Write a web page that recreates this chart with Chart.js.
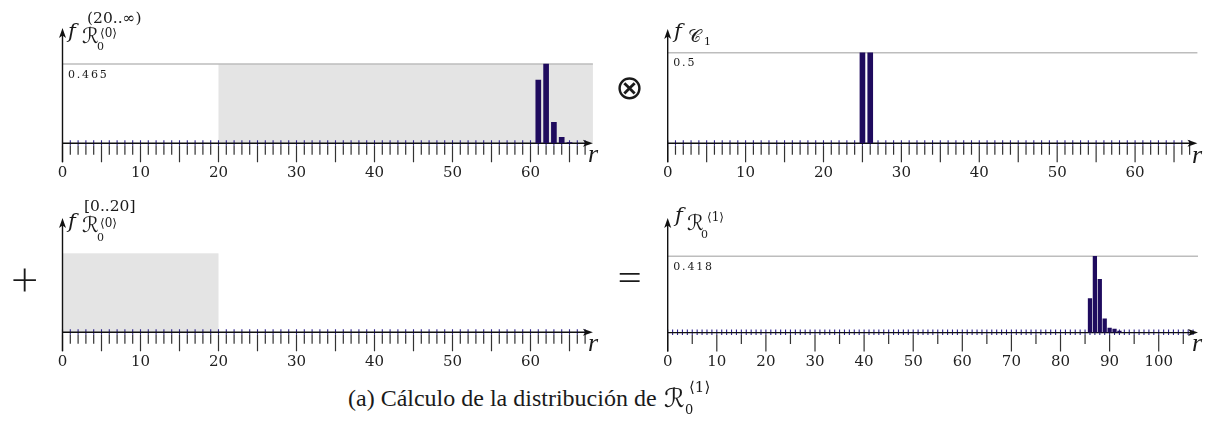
<!DOCTYPE html>
<html>
<head>
<meta charset="utf-8">
<script src="https://cdn.jsdelivr.net/npm/chart.js@4.4.1/dist/chart.umd.min.js"></script>
<style>
  html, body { margin: 0; padding: 0; background: #fff; }
  #fig { position: relative; width: 1214px; height: 445px; overflow: hidden; }
  #fig canvas { position: absolute; }
  .t { position: absolute; line-height: 1; white-space: nowrap; color: #1a1a1a; }
  .dv { font-family: "DejaVu Serif", "DejaVu Sans", serif; }
  .di { font-family: "DejaVu Serif", serif; font-style: italic; }
  .ds { font-family: "DejaVu Sans", sans-serif; }
  .lb { font-family: "Liberation Serif", serif; }
  .lt { font-family: "Lato", "DejaVu Sans", sans-serif; font-weight: 300; }
  .it { font-family: "Liberation Serif", serif; font-style: italic; }
  .val { font-family: "DejaVu Serif", serif; letter-spacing: 1.8px; }
</style>
</head>
<body>
<div id="fig">
  <canvas id="cTail" width="607" height="190" style="left:0;top:0"></canvas>
  <canvas id="cStep" width="607" height="190" style="left:607px;top:0"></canvas>
  <canvas id="cHead" width="607" height="190" style="left:0;top:190px"></canvas>
  <canvas id="cNext" width="607" height="190" style="left:607px;top:190px"></canvas>
</div>
<script>
// ---- data -------------------------------------------------------------
// tail of the round-0 distribution, r in (20..inf)
const tailR = [61, 62, 63, 64, 65];
const tailF = [0.371, 0.465, 0.123, 0.035, 0.004];
const tailFrom = 20;

// step distribution C1
const stepR = [25, 26];
const stepF = [0.5, 0.5];

// head of the round-0 distribution, r in [0..20] (no mass there)
const headR = [];
const headF = [];
const headTo = 20;

// resulting round-1 distribution
const nextR = [86, 87, 88, 89, 90, 91, 92];
const nextF = [0.186, 0.418, 0.292, 0.075, 0.025, 0.019, 0.009];

// labelled ticks on the r axes
const shortAxisLabels = [0, 10, 20, 30, 40, 50, 60];
const longAxisLabels = [0, 10, 20, 30, 40, 50, 60, 70, 80, 90, 100];

const BAR = '#1f0b5e';
const UNIT_MARK = '#30248f';
const X_SCALE_H = 40;

// ---- axis decoration: shading, peak line, ticks, arrows -----------------
const axisDecor = {
  id: 'axisDecor',
  beforeDatasetsDraw(chart, _args, o) {
    const { ctx, chartArea: a } = chart;
    const xs = chart.scales.x, ys = chart.scales.y;
    const y0 = ys.getPixelForValue(0);
    ctx.save();
    if (o.shade) {
      const x1 = xs.getPixelForValue(o.shade[0]);
      const x2 = xs.getPixelForValue(Math.min(o.shade[1], xs.max));
      const yt = ys.getPixelForValue(o.shadeTop);
      ctx.fillStyle = '#e4e4e4';
      ctx.fillRect(x1, yt, x2 - x1, y0 - yt);
    }
    if (o.peak != null) {
      const yp = ys.getPixelForValue(o.peak);
      ctx.strokeStyle = '#bdbdbd';
      ctx.lineWidth = 1.4;
      ctx.beginPath(); ctx.moveTo(a.left, yp); ctx.lineTo(a.right, yp); ctx.stroke();
    }
    // one small mark per integer r
    ctx.strokeStyle = UNIT_MARK;
    ctx.lineWidth = 1.1;
    ctx.beginPath();
    for (let v = 0; v < xs.max; v++) {
      const px = xs.getPixelForValue(v);
      ctx.moveTo(px, y0 - 3); ctx.lineTo(px, y0 + 2.5);
    }
    ctx.stroke();
    // minor / major ticks below the axis
    ctx.strokeStyle = '#333';
    ctx.lineWidth = 1.2;
    ctx.beginPath();
    for (let v = 0; v < xs.max; v += o.minor) {
      const len = v % o.major === 0 ? 19 : 11.5;
      const px = xs.getPixelForValue(v);
      ctx.moveTo(px, y0 + 2.5); ctx.lineTo(px, y0 + len);
    }
    ctx.stroke();
    // axis lines
    ctx.strokeStyle = '#111';
    ctx.lineWidth = 1.4;
    ctx.beginPath();
    ctx.moveTo(a.left, y0 + 19); ctx.lineTo(a.left, a.top + 6);
    ctx.moveTo(a.left, y0); ctx.lineTo(a.right - 6, y0);
    ctx.stroke();
    // arrowheads
    ctx.fillStyle = '#111';
    ctx.beginPath();
    ctx.moveTo(a.right, y0); ctx.lineTo(a.right - 10, y0 - 3.5);
    ctx.lineTo(a.right - 7.5, y0); ctx.lineTo(a.right - 10, y0 + 3.5);
    ctx.closePath(); ctx.fill();
    ctx.beginPath();
    ctx.moveTo(a.left, a.top); ctx.lineTo(a.left - 3.5, a.top + 10);
    ctx.lineTo(a.left, a.top + 7.5); ctx.lineTo(a.left + 3.5, a.top + 10);
    ctx.closePath(); ctx.fill();
    ctx.restore();
  }
};

function panel(id, o) {
  const canvas = document.getElementById(id);
  return new Chart(canvas, {
    type: 'bar',
    data: {
      datasets: [{
        data: o.r.map((v, i) => ({ x: v, y: o.f[i] })),
        backgroundColor: BAR,
        borderWidth: 0,
        barThickness: o.barW
      }]
    },
    options: {
      responsive: false,
      animation: false,
      events: [],
      layout: {
        padding: {
          left: o.left, right: o.right, top: o.top,
          bottom: canvas.height - o.bottom - X_SCALE_H
        }
      },
      plugins: {
        legend: { display: false },
        tooltip: { enabled: false },
        axisDecor: o.decor
      },
      scales: {
        x: {
          type: 'linear',
          min: 0,
          max: o.xMax,
          offset: false,
          grid: { display: false, drawTicks: false },
          border: { display: false },
          afterBuildTicks: s => { s.ticks = o.labels.map(v => ({ value: v })); },
          afterFit: s => { s.height = X_SCALE_H; },
          ticks: {
            padding: 21,
            color: '#222',
            maxRotation: 0,
            autoSkip: false,
            font: { family: 'DejaVu Serif', size: 15 }
          }
        },
        y: { display: false, min: 0, max: o.yMax }
      }
    },
    plugins: [axisDecor]
  });
}

const tailPeak = Math.max(...tailF);
const stepPeak = Math.max(...stepF);
const nextPeak = Math.max(...nextF);

panel('cTail', {
  r: tailR, f: tailF, barW: 5, xMax: 68, yMax: 0.676, labels: shortAxisLabels,
  left: 62.5, right: 14.1, top: 28, bottom: 143.3,
  decor: { shade: [tailFrom, Infinity], shadeTop: tailPeak, peak: tailPeak, minor: 1, major: 5 }
});
panel('cStep', {
  r: stepR, f: stepF, barW: 5, xMax: 68, yMax: 0.631, labels: shortAxisLabels,
  left: 60.7, right: 16.6, top: 29, bottom: 143.3,
  decor: { peak: stepPeak, minor: 1, major: 5 }
});
panel('cHead', {
  r: headR, f: headF, barW: 5, xMax: 68, yMax: 0.673, labels: shortAxisLabels,
  left: 62.5, right: 14.1, top: 28, bottom: 142.3,
  decor: { shade: [0, headTo], shadeTop: tailPeak, peak: null, minor: 1, major: 5 }
});
panel('cNext', {
  r: nextR, f: nextF, barW: 3.6, xMax: 108, yMax: 0.628, labels: longAxisLabels,
  left: 60.7, right: 16, top: 28, bottom: 142.6,
  decor: { peak: nextPeak, minor: 5, major: 10 }
});

// ---- text: axis names, peak values, operators, caption -------------------
const fig = document.getElementById('fig');
const ASC = { dv: 0.846, di: 0.846, ds: 0.846, lb: 0.8375, it: 0.8375, val: 0.846, lt: 0.82 };
function txt(s, left, baseline, size, cls, extra) {
  const el = document.createElement('div');
  el.className = 't ' + cls;
  el.textContent = s;
  el.style.left = left + 'px';
  el.style.top = (baseline - ASC[cls] * size) + 'px';
  el.style.fontSize = size + 'px';
  if (extra) Object.assign(el.style, extra);
  fig.appendChild(el);
  return el;
}

// f_{R_0^<0>}^{(20..inf)}
txt('f', 68, 39, 21, 'di');
txt('\u211B', 82, 44, 21, 'dv');
txt('\u27E80\u27E9', 100, 37, 12, 'dv');
txt('0', 97, 50, 11, 'dv');
txt('(20..\u221E)', 87, 24, 15.5, 'dv');
txt(String(tailPeak), 68, 78.3, 11, 'val');
txt('r', 588, 163, 26, 'it');

// f_{C_1}
txt('f', 674, 38.5, 21, 'di');
txt('\uD835\uDC9E', 688, 42.7, 18, 'dv');
txt('1', 704, 45, 11, 'dv');
txt(String(stepPeak), 673.3, 66.7, 11, 'val');
txt('r', 1192, 163.3, 26, 'it');

// f_{R_0^<0>}^{[0..20]}
txt('f', 68, 229, 21, 'di');
txt('\u211B', 82, 233, 21, 'dv');
txt('\u27E80\u27E9', 100, 227, 12, 'dv');
txt('0', 97, 241, 11, 'dv');
txt('[0..20]', 84, 212, 15.5, 'dv');
txt('r', 588, 352, 26, 'it');

// f_{R_0^<1>}
txt('f', 675, 223, 21, 'di');
txt('\u211B', 687, 231, 21, 'dv');
txt('\u27E81\u27E9', 707, 221, 12, 'dv');
txt('0', 701, 238, 11, 'dv');
txt(String(nextPeak), 673.3, 270, 11, 'val');
txt('r', 1192, 351.7, 26, 'it');

// operators
txt('\u2297', 599.5, 99, 34, 'ds', { width: '60px', textAlign: 'center' });
txt('+', -5.3, 293, 48, 'lt', { width: '60px', textAlign: 'center' });
txt('=', 599.7, 290, 48, 'lt', { width: '60px', textAlign: 'center' });

// caption
txt('(a) C\u00E1lculo de la distribuci\u00F3n de', 348, 406, 24, 'lb');
txt('\u211B', 664, 407, 26, 'dv');
txt('\u27E81\u27E9', 689, 393, 15, 'dv');
txt('0', 685, 414, 13, 'dv');
</script>
</body>
</html>
